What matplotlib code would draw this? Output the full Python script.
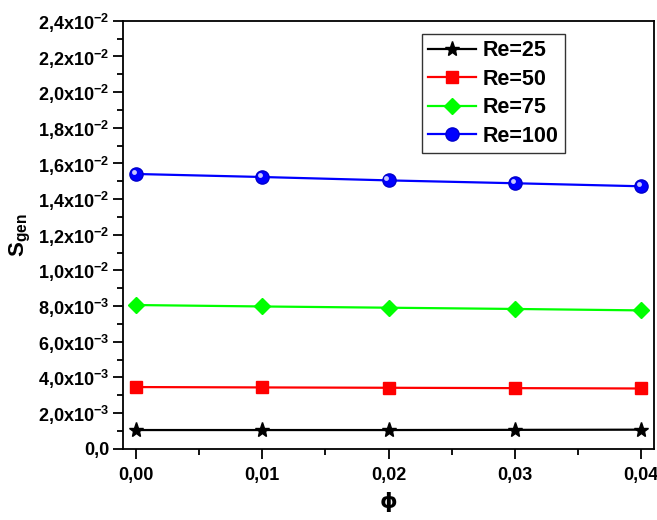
import matplotlib
matplotlib.use("Agg")
import matplotlib.pyplot as plt
import matplotlib.transforms as mtransforms
from matplotlib.ticker import FixedLocator, MultipleLocator, FuncFormatter

plt.rcParams["font.family"] = ["Liberation Sans", "DejaVu Sans"]
plt.rcParams["font.weight"] = "bold"
plt.rcParams["mathtext.fontset"] = "custom"
plt.rcParams["mathtext.rm"] = "Liberation Sans:bold"
plt.rcParams["mathtext.it"] = "Liberation Sans:bold:italic"
plt.rcParams["mathtext.bf"] = "Liberation Sans:bold"

# volume fraction
phi = [0.00, 0.01, 0.02, 0.03, 0.04]

# entropy generation for each Reynolds number
s_re25 = [1.05e-3, 1.05e-3, 1.05e-3, 1.06e-3, 1.07e-3]
s_re50 = [3.46e-3, 3.44e-3, 3.42e-3, 3.40e-3, 3.38e-3]
s_re75 = [8.06e-3, 7.98e-3, 7.91e-3, 7.84e-3, 7.76e-3]
s_re100 = [15.41e-3, 15.24e-3, 15.05e-3, 14.89e-3, 14.72e-3]

labels = ["Re=25", "Re=50", "Re=75", "Re=100"]
x_ticks = [0.00, 0.01, 0.02, 0.03, 0.04]
y_ticks = [0.0, 0.002, 0.004, 0.006, 0.008, 0.010, 0.012,
           0.014, 0.016, 0.018, 0.020, 0.022, 0.024]


def y_fmt(v, pos):
    if abs(v) < 1e-12:
        return "0,0"
    if v < 0.0099:
        exp, mant = -3, v * 1e3
    else:
        exp, mant = -2, v * 1e2
    return f"{mant:.1f}".replace(".", ",") + "x10$^{" + str(exp) + "}$"


fig = plt.figure(figsize=(6.57, 5.2), dpi=100)
ax = fig.add_axes([0.1877, 0.137, 0.8073, 0.823])

ax.plot(phi, s_re25, color="black", lw=1.6, marker="*", ms=11,
        mfc="black", mec="black", label=labels[0])
ax.plot(phi, s_re50, color="#ff0000", lw=1.6, marker="s", ms=8,
        mfc="#ff0000", mec="#ff0000", label=labels[1])
ax.plot(phi, s_re75, color="#00ff00", lw=1.6, marker="D", ms=8.5,
        mfc="#00ff00", mec="#00ff00", label=labels[2])
ax.plot(phi, s_re100, color="#0000ff", lw=1.6, marker="o", ms=9.5,
        mfc="#0000ff", mec="#0000cc", label=labels[3])
# highlight on the spheres
hl = mtransforms.offset_copy(ax.transData, fig=fig, x=-1.5, y=1.5, units="points")
ax.plot(phi, s_re100, ls="none", marker="o", ms=3.5, mfc="#c8c8ff",
        mec="none", transform=hl)

ax.set_xlim(-0.001, 0.041)
ax.set_ylim(0, 0.024)
ax.xaxis.set_major_locator(FixedLocator(x_ticks))
ax.xaxis.set_minor_locator(MultipleLocator(0.005))
ax.yaxis.set_major_locator(FixedLocator(y_ticks))
ax.yaxis.set_minor_locator(MultipleLocator(0.001))
ax.xaxis.set_major_formatter(FuncFormatter(lambda v, p: f"{v:.2f}".replace(".", ",")))
ax.yaxis.set_major_formatter(FuncFormatter(y_fmt))

ax.tick_params(axis="both", which="major", direction="out", length=7,
               width=1.3, labelsize=13, pad=3)
ax.tick_params(axis="both", which="minor", direction="out", length=4, width=1.3)
ax.tick_params(axis="x", pad=6)
for sp in ax.spines.values():
    sp.set_linewidth(1.3)

ax.set_xlabel("ϕ", fontsize=16, fontweight="bold", labelpad=6,
              family=["DejaVu Sans"])
ax.set_ylabel("S$_{\\mathregular{gen}}$", fontsize=16, fontweight="bold", labelpad=4)

leg = ax.legend(loc="upper left", bbox_to_anchor=(0.563, 0.97), fontsize=15.5,
                frameon=True, fancybox=False, edgecolor="black",
                handlelength=2.2, handletextpad=0.3, borderpad=0.3,
                labelspacing=0.35, borderaxespad=0)
leg.get_frame().set_linewidth(1.0)
for t in leg.get_texts():
    t.set_fontweight("bold")

fig.savefig("out.png", dpi=100)
